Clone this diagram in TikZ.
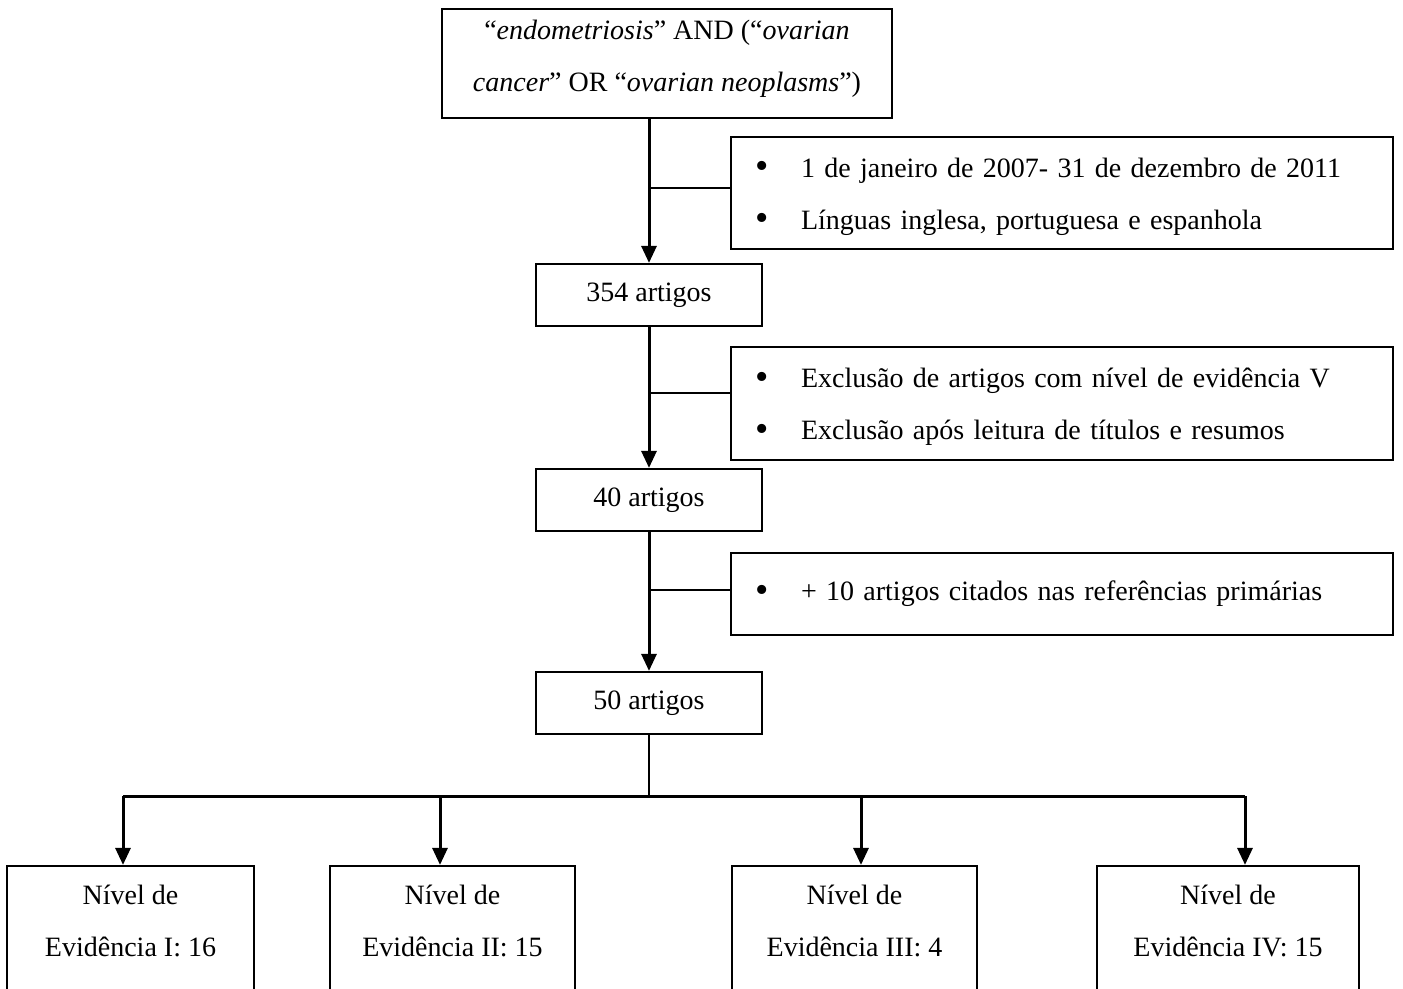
\documentclass[tikz,border=0pt]{standalone}
\usepackage{fontspec}
\setmainfont{Liberation Serif}
\usetikzlibrary{arrows.meta,positioning,calc}

% bullet for the criteria boxes
\newcommand{\bitem}{\hspace*{12pt}\makebox[23pt][l]{\raisebox{-0.8pt}{\fontsize{19}{19}\selectfont\textbullet}}}

\begin{document}
\begin{tikzpicture}[x=0.5pt,y=-0.5pt,
    box/.style={draw, line width=1.1pt, align=center, inner sep=0pt, font=\fontsize{14}{26}\selectfont},
    critbox/.style={box, align=left, text width=331pt, minimum height=#1},
    countbox/.style={box, minimum width=113pt, minimum height=31pt},
    lvlbox/.style={box, minimum width=#1, minimum height=88.3pt},
    trunk/.style={line width=1.5pt},
    arr/.style={-{Triangle[length=8.5pt,width=7.5pt]}},
    branch/.style={line width=0.9pt}]
			\useasboundingbox (0,0) rectangle (1403,989);
			\clip (0,0) rectangle (1403,989);
			
			% search terms
			\node[box, minimum width=225pt, minimum height=54.5pt] (query) at (667,63.5)
			  {“\emph{endometriosis}” AND (“\emph{ovarian}\\\emph{cancer}” OR “\emph{ovarian neoplasms}”)\strut};
			
			% counts
			\node[countbox] (n354) at (649,295) {354 artigos};
			\node[countbox] (n40) at (649,500) {40 artigos};
			\node[countbox] (n50) at (649,703) {50 artigos};
			
			% filters
			\node[critbox=56pt] (crit1) at (1062,193)
			  {\strut\bitem 1 de janeiro de 2007- 31 de dezembro de 2011\\\bitem Línguas inglesa, portuguesa e espanhola\strut};
			\node[critbox=56.5pt] (crit2) at (1062,403.5)
			  {\strut\bitem Exclusão de artigos com nível de evidência V\\\bitem Exclusão após leitura de títulos e resumos\strut};
			\node[critbox=41pt] (crit3) at (1062,594)
			  {\bitem + 10 artigos citados nas referências primárias};
			
			% evidence levels
			\node[lvlbox=123.5pt] (lvl1) at (130.5,954.3) {Nível de\\Evidência I: 16\\\strut};
			\node[lvlbox=122.5pt] (lvl2) at (452.5,954.3) {Nível de\\Evidência II: 15\\\strut};
			\node[lvlbox=122.5pt] (lvl3) at (854.5,954.3) {Nível de\\Evidência III: 4\\\strut};
			\node[lvlbox=131pt] (lvl4) at (1228,954.3) {Nível de\\Evidência IV: 15\\\strut};
			
			% main flow
			\draw[trunk, arr] (query.south -| n354) -- (n354);
			\draw[trunk, arr] (n354) -- (n40);
			\draw[trunk, arr] (n40) -- (n50);
			
			% side branches
			\draw[branch] ([yshift=2.5pt]crit1.west) -- ([yshift=2.5pt]crit1.west -| n354);
			\draw[branch] ([yshift=5.25pt]crit2.west) -- ([yshift=5.25pt]crit2.west -| n354);
			\draw[branch] ([yshift=2pt]crit3.west) -- ([yshift=2pt]crit3.west -| n354);
			
			% split into levels
			\coordinate (bus) at (649,796);
			\coordinate (d1) at (123,796);
			\coordinate (d2) at (440,796);
			\coordinate (d3) at (861,796);
			\coordinate (d4) at (1245,796);
			\draw[branch] (n50) -- (bus);
			\draw[trunk] (d1) -- (d4);
			\foreach \i in {1,...,4}
			  \draw[trunk, arr] (d\i) -- (d\i |- lvl\i.north);
		\end{tikzpicture}
\end{document}
